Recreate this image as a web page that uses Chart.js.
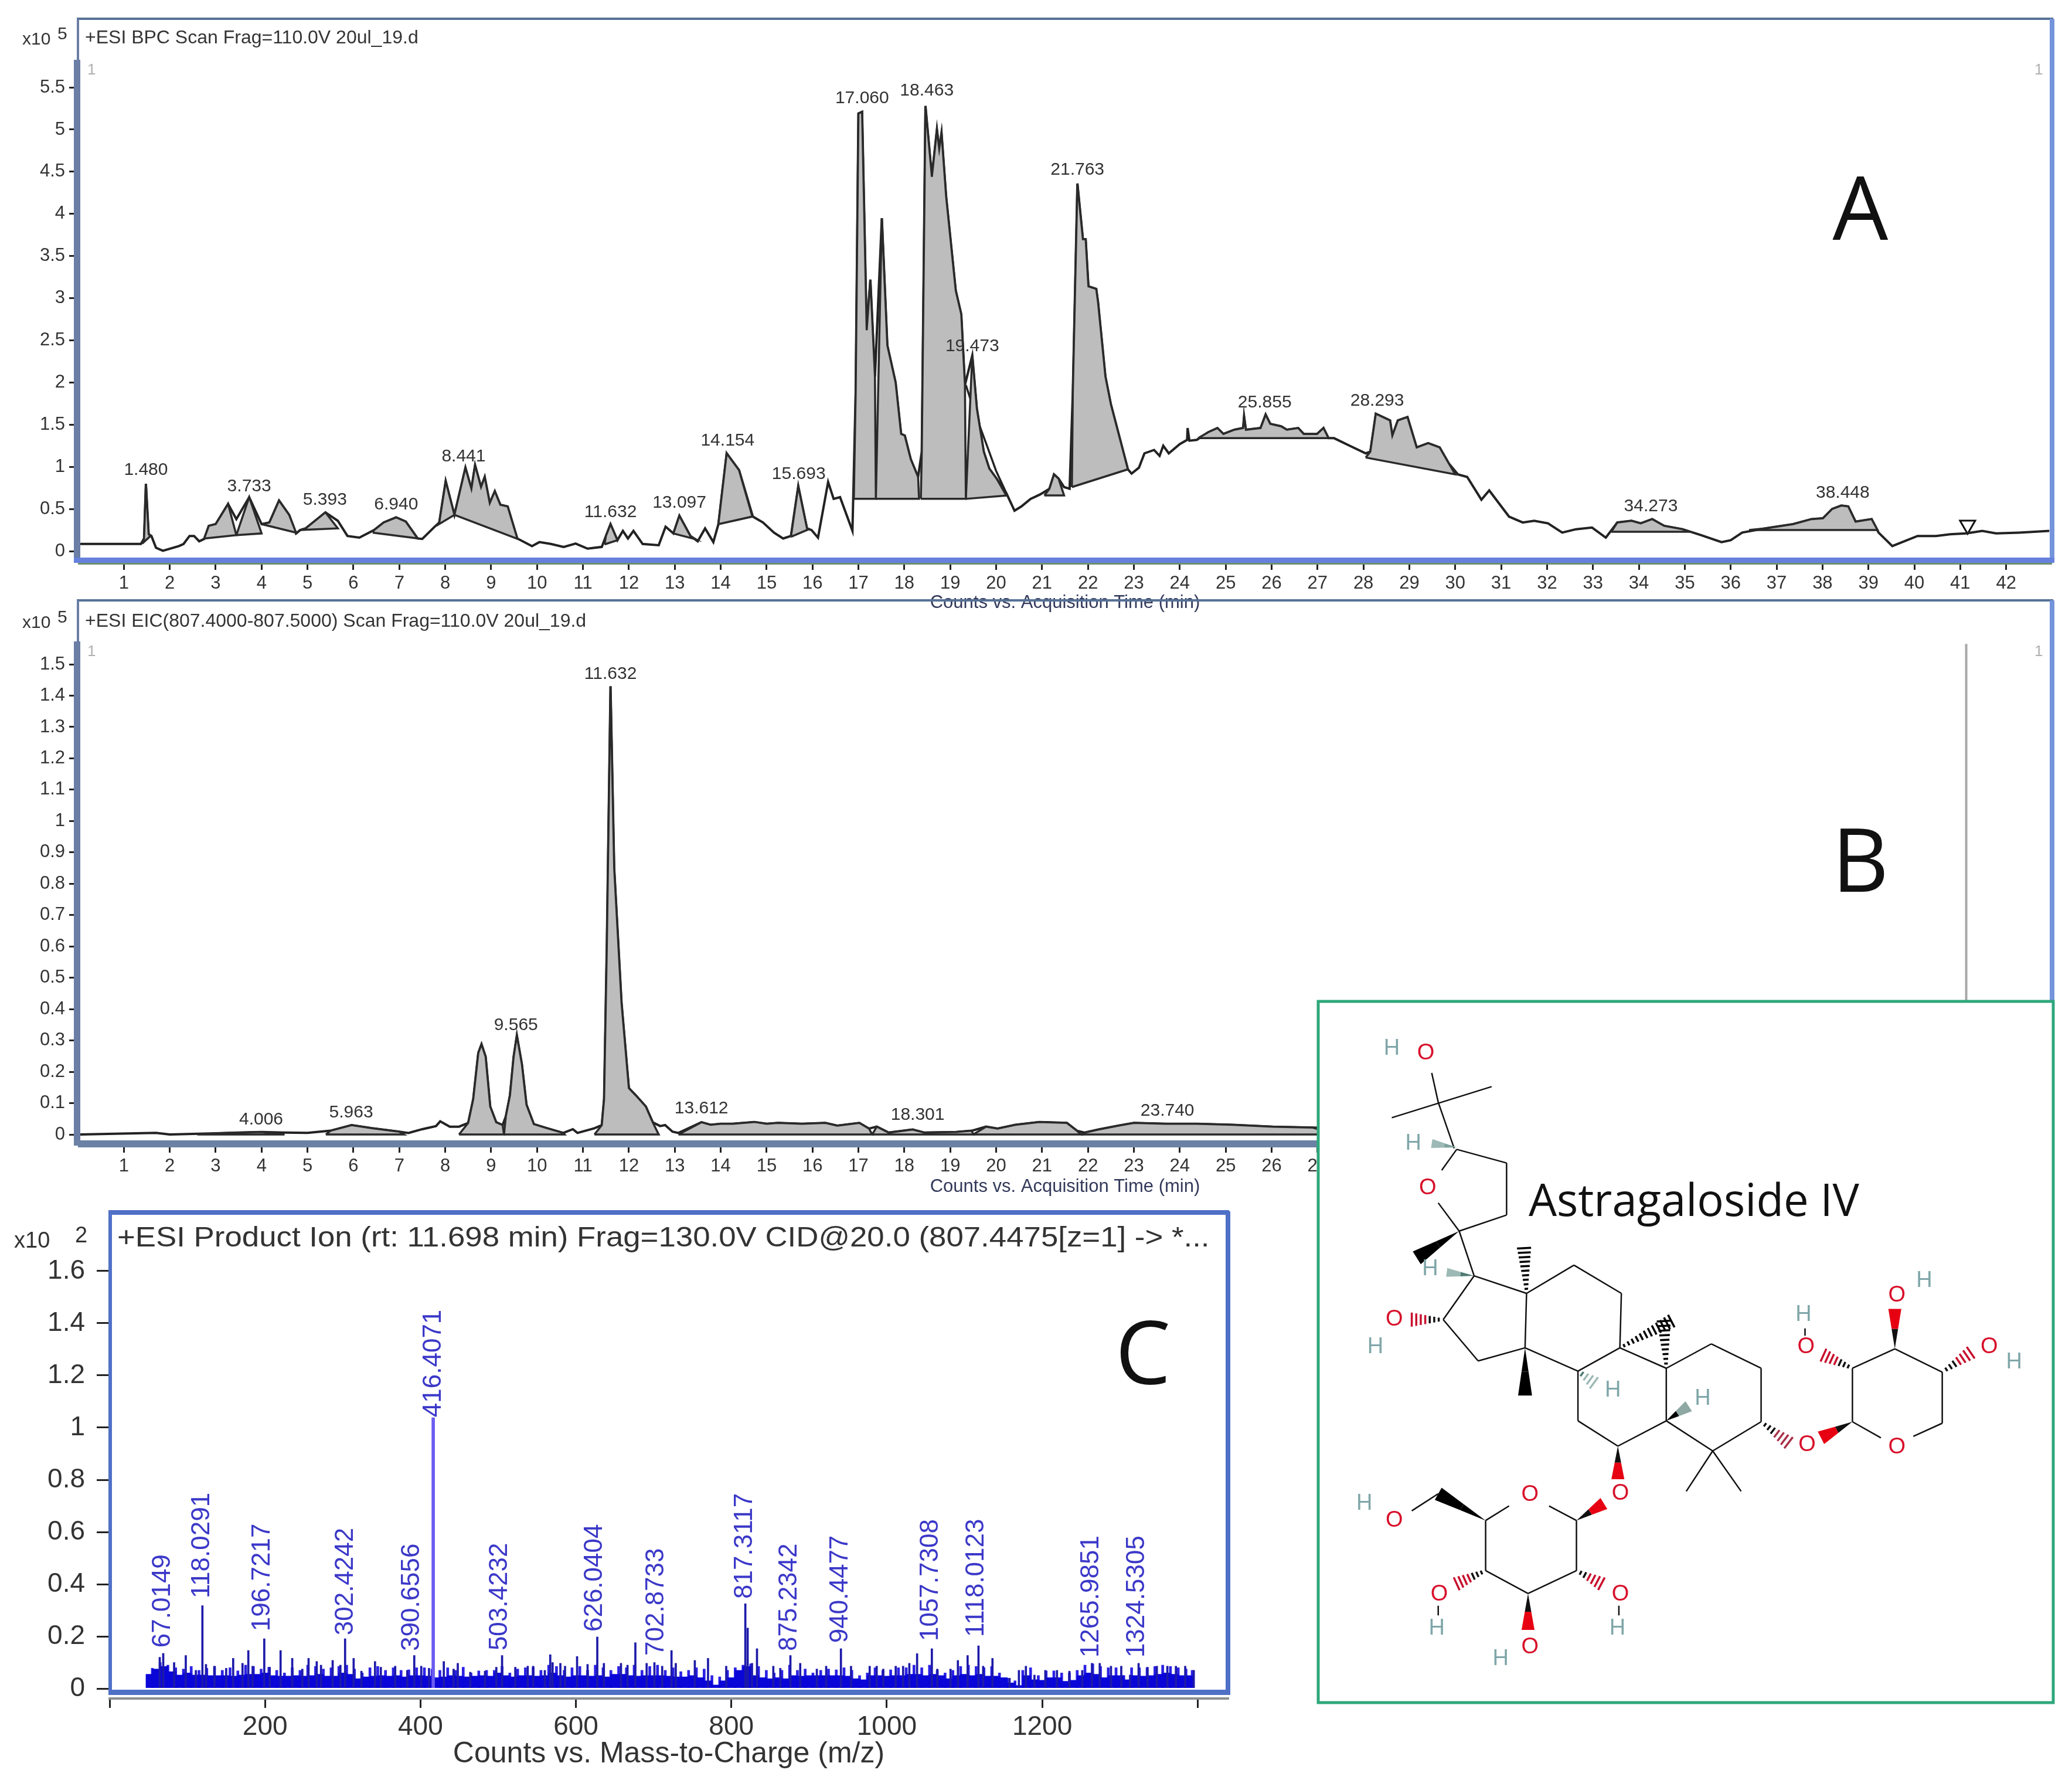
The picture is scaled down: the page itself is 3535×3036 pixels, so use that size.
<!DOCTYPE html>
<html>
<head>
<meta charset="utf-8">
<title>Astragaloside IV</title>
<script src="https://cdn.jsdelivr.net/npm/chart.js@4/dist/chart.umd.js"></script>
<style>
  html, body { margin: 0; padding: 0; background: #fff; }
  #page { position: relative; width: 3535px; height: 3036px; overflow: hidden; }
  canvas { position: absolute; left: 0; top: 0; }
</style>
</head>
<body>
<div id="page">
  <canvas id="chartA" width="3535" height="3036"></canvas>
  <canvas id="chartB" width="3535" height="3036"></canvas>
  <canvas id="chartC" width="3535" height="3036"></canvas>
  <canvas id="chartMol" width="3535" height="3036"></canvas>
</div>
<script>
// ---- panel A: BPC trace ----
const timeA = [0.05,1.37,1.44,1.48,1.54,1.6,1.7,1.85,2.2,2.3,2.43,2.53,2.64,2.75,2.85,3.0,3.27,3.45,3.73,4.0,4.17,4.38,4.6,4.75,4.84,4.96,5.39,5.66,5.87,6.13,6.45,6.66,6.93,7.14,7.4,7.5,7.77,7.87,8.01,8.2,8.44,8.57,8.65,8.78,8.86,8.97,9.08,9.2,9.36,9.57,9.89,10.05,10.3,10.58,10.84,11.1,11.41,11.5,11.6,11.75,11.87,11.98,12.1,12.3,12.65,12.8,12.97,13.1,13.34,13.5,13.66,13.84,13.95,14.13,14.4,14.7,14.92,15.16,15.36,15.53,15.69,15.88,15.98,16.12,16.34,16.46,16.6,16.87,16.94,17.0,17.08,17.18,17.26,17.36,17.51,17.63,17.81,17.93,18.01,18.14,18.3,18.38,18.46,18.6,18.71,18.76,18.81,18.91,19.12,19.24,19.32,19.48,19.58,19.73,19.85,20.01,20.22,20.4,20.55,20.75,20.95,21.16,21.26,21.36,21.48,21.6,21.67,21.77,21.89,21.95,22.01,22.18,22.22,22.38,22.5,22.87,22.95,23.11,23.23,23.44,23.56,23.64,23.76,24.0,24.16,24.17,24.21,24.37,24.62,24.82,24.95,25.19,25.38,25.4,25.44,25.76,25.87,25.97,26.21,26.33,26.58,26.7,26.99,27.13,27.24,27.36,27.7,28.05,28.15,28.27,28.58,28.63,28.75,28.96,29.16,29.41,29.66,29.86,30.06,30.26,30.57,30.74,31.17,31.47,31.72,32.02,32.33,32.63,32.98,33.28,33.53,33.84,34.04,34.29,34.55,34.95,35.35,35.8,36.0,36.25,36.75,37.36,37.76,38.01,38.21,38.41,38.56,38.72,39.07,39.22,39.52,40.07,40.47,40.78,41.13,41.48,41.78,42.28,42.94];
const intensityA = [0.085,0.085,0.15,0.8,0.2,0.18,0.04,0.005,0.06,0.085,0.18,0.18,0.117,0.145,0.3,0.32,0.56,0.38,0.64,0.32,0.34,0.6,0.43,0.21,0.25,0.27,0.46,0.36,0.18,0.16,0.25,0.34,0.4,0.35,0.15,0.145,0.29,0.34,0.83,0.43,0.99,0.74,1.02,0.76,0.88,0.57,0.71,0.55,0.53,0.15,0.06,0.107,0.085,0.05,0.09,0.03,0.05,0.18,0.32,0.13,0.24,0.15,0.24,0.085,0.07,0.29,0.21,0.42,0.18,0.117,0.27,0.107,0.32,1.16,0.96,0.41,0.34,0.22,0.15,0.18,0.77,0.27,0.25,0.16,0.82,0.62,0.64,0.24,1.88,5.19,5.21,2.62,3.22,2.07,3.95,2.44,2.0,1.39,1.37,1.09,0.88,1.18,5.28,4.44,5.0,4.77,4.96,4.21,3.09,2.81,1.97,2.32,1.69,1.18,0.98,0.86,0.69,0.48,0.53,0.62,0.67,0.74,0.91,0.86,0.76,0.74,1.88,4.36,3.7,3.7,3.14,3.11,2.95,2.07,1.74,0.97,0.92,0.99,1.16,1.2,1.13,1.25,1.16,1.27,1.32,1.46,1.31,1.32,1.41,1.46,1.39,1.44,1.46,1.6,1.44,1.46,1.62,1.51,1.48,1.44,1.46,1.39,1.39,1.46,1.34,1.34,1.25,1.16,1.18,1.63,1.55,1.37,1.55,1.59,1.23,1.28,1.23,1.04,0.91,0.88,0.61,0.72,0.41,0.34,0.36,0.33,0.22,0.26,0.28,0.16,0.34,0.36,0.33,0.38,0.3,0.26,0.19,0.107,0.13,0.22,0.27,0.32,0.38,0.39,0.5,0.54,0.53,0.35,0.38,0.22,0.06,0.18,0.18,0.2,0.21,0.24,0.21,0.22,0.24];
// second falling edge next to the 19.473 peak
const tailTimeA = [19.34,19.55,19.8,20.0,20.22];
const tailValueA = [1.97,1.62,1.25,0.95,0.69];
// integrated peaks: start time, start baseline, end time, end baseline
const peaksA = [
  [1.4,0.09,1.58,0.18],[2.75,0.15,3.45,0.19],[3.45,0.19,4.0,0.21],[4.0,0.32,4.75,0.22],
  [4.84,0.25,5.66,0.27],[6.42,0.22,7.42,0.15],[7.8,0.3,8.2,0.43],[8.2,0.43,9.6,0.14],
  [11.47,0.08,11.75,0.13],[12.97,0.21,13.46,0.14],[13.95,0.32,14.69,0.41],[15.53,0.17,15.92,0.26],
  [16.9,0.62,17.38,0.62],[17.38,0.62,18.32,0.62],[18.36,0.62,19.34,0.62],[19.34,0.62,20.22,0.66],
  [21.05,0.66,21.48,0.66],[21.65,0.76,22.87,0.97],[24.4,1.34,27.3,1.34],[28.05,1.11,30.0,0.91],
  [33.4,0.23,35.1,0.23],[36.4,0.25,39.2,0.25]
];
const peakTextA = ["1.480","3.733","5.393","6.940","8.441","11.632","13.097","14.154","15.693","17.060","18.463","19.473","21.763","25.855","28.293","34.273","38.448"];
const peakTextTimeA = [1.48,3.73,5.38,6.93,8.4,11.6,13.1,14.15,15.7,17.08,18.49,19.48,21.77,25.85,28.3,34.26,38.44];
const peakTextValueA = [0.96,0.77,0.61,0.55,1.12,0.46,0.57,1.31,0.91,5.37,5.46,2.43,4.52,1.76,1.78,0.53,0.69];
const markerA = [{ x: 41.16, y: 0.31 }];

// ---- panel B: EIC trace ----
const timeB = [0.05,1.7,2.0,2.5,3.0,3.5,4.0,4.5,5.0,5.5,5.96,6.4,7.0,7.2,7.5,7.8,7.89,8.1,8.3,8.5,8.61,8.72,8.79,8.88,8.98,9.11,9.25,9.32,9.41,9.49,9.56,9.67,9.77,9.93,10.2,10.57,10.78,10.88,11.25,11.41,11.46,11.52,11.6,11.68,11.84,12.0,12.15,12.37,12.52,12.68,12.79,12.95,13.08,13.58,13.78,14.0,14.26,14.73,15.0,15.25,15.77,16.28,16.54,17.02,17.23,17.4,17.66,18.18,18.44,19.13,19.47,19.78,20.03,20.42,20.94,21.54,21.76,21.93,22.23,22.66,23.0,23.7,24.37,25.15,26.03,26.9,27.4];
const intensityB = [0,0.005,0,0.002,0.004,0.006,0.008,0.006,0.005,0.012,0.03,0.02,0.009,0.005,0.017,0.027,0.042,0.025,0.025,0.037,0.113,0.26,0.288,0.248,0.089,0.039,0.03,0.058,0.125,0.248,0.316,0.224,0.095,0.033,0.021,0.005,0.017,0.005,0.02,0.03,0.113,0.605,1.43,0.85,0.42,0.148,0.125,0.089,0.039,0.027,0.03,0.009,0.005,0.039,0.031,0.034,0.034,0.04,0.034,0.037,0.034,0.037,0.028,0.037,0.019,0.025,0.006,0.016,0.006,0.008,0.012,0.025,0.019,0.031,0.04,0.037,0.012,0.006,0.016,0.028,0.037,0.034,0.034,0.031,0.025,0.022,0.02];
const peaksB = [
  [2.6,0,4.5,0],[5.4,0,7.1,0],[8.3,0,9.28,0],[9.28,0,10.6,0],[11.25,0,12.65,0],[13.08,0,17.3,0],
  [17.3,0,19.5,0],[19.5,0,21.85,0],[21.85,0,27.4,0]
];
const peakTextB = ["4.006","5.963","9.565","11.632","13.612","18.301","23.740"];
const peakTextTimeB = [3.99,5.95,9.54,11.6,13.58,18.29,23.73];
const peakTextValueB = [0.048,0.07,0.349,1.469,0.082,0.062,0.075];
const cursorTimeB = [41.13,41.13];
const cursorValueB = [0,1.565];

const timeTicks = [1,2,3,4,5,6,7,8,9,10,11,12,13,14,15,16,17,18,19,20,21,22,23,24,25,26,27,28,29,30,31,32,33,34,35,36,37,38,39,40,41,42];
const yTicksA = [0,0.5,1,1.5,2,2.5,3,3.5,4,4.5,5,5.5];
const yTicksB = [0,0.1,0.2,0.3,0.4,0.5,0.6,0.7,0.8,0.9,1,1.1,1.2,1.3,1.4,1.5];

// ---- panel C: product ion spectrum ----
const noiseMz = [52,60,70,80,90,100,110,120,130,140,150,160,170,180,190,200,210,220,230,240,250,260,270,280,290,300,310,320,330,340,350,360,370,380,390,400,410,420,430,440,450,460,470,480,490,500,510,520,530,540,550,560,570,580,590,600,610,620,630,640,650,660,670,680,690,700,710,720,730,740,750,760,770,780,790,800,810,820,830,840,850,860,870,880,890,900,910,920,930,940,950,960,970,980,990,1000,1010,1020,1030,1040,1050,1060,1070,1080,1090,1100,1110,1120,1130,1140,1150,1160,1170,1180,1190,1200,1210,1220,1230,1240,1250,1260,1270,1280,1290,1300,1310,1320,1330,1340,1350,1360,1370,1380,1390];
const noiseValue = [0.055,0.075,0.085,0.065,0.052,0.06,0.052,0.052,0.05,0.05,0.05,0.048,0.052,0.055,0.055,0.06,0.05,0.048,0.048,0.05,0.048,0.05,0.055,0.048,0.048,0.06,0.055,0.038,0.045,0.048,0.05,0.048,0.05,0.045,0.05,0.05,0.048,0.042,0.045,0.05,0.048,0.045,0.048,0.05,0.048,0.06,0.05,0.045,0.05,0.05,0.048,0.05,0.06,0.05,0.045,0.05,0.05,0.048,0.05,0.045,0.055,0.055,0.05,0.048,0.05,0.05,0.05,0.048,0.045,0.045,0.05,0.042,0.03,0.014,0.03,0.042,0.07,0.085,0.05,0.042,0.038,0.042,0.038,0.05,0.048,0.05,0.05,0.05,0.05,0.05,0.048,0.038,0.034,0.05,0.05,0.048,0.05,0.05,0.055,0.055,0.05,0.055,0.05,0.038,0.05,0.055,0.05,0.055,0.048,0.048,0.042,0.022,0.012,0.05,0.034,0.032,0.042,0.042,0.028,0.032,0.05,0.06,0.055,0.042,0.05,0.05,0.034,0.05,0.048,0.05,0.055,0.06,0.055,0.05,0.05];
// lighter top layer of the noise, taken off the comb between the labelled ions
const combMz = [55,65,75,85,95,105,115,125,135,145,155,165,175,185,195,205,215,225,235,245,255,265,275,285,295,305,315,325,335,345,355,365,375,385,395,405,415,425,435,445,455,465,475,485,495,505,515,525,535,545,555,565,575,585,595,605,615,625,635,645,655,665,675,685,695,705,715,725,735,745,755,765,775,785,795,805,815,825,835,845,855,865,875,885,895,905,915,925,935,945,955,965,975,985,995,1005,1015,1025,1035,1045,1055,1065,1075,1085,1095,1105,1115,1125,1135,1145,1155,1165,1175,1185,1195,1205,1215,1225,1235,1245,1255,1265,1275,1285,1295,1305,1315,1325,1335,1345,1355,1365,1375,1385,1393];
const combValue = [0.078,0.1,0.09,0.08,0.075,0.085,0.07,0.078,0.085,0.07,0.08,0.068,0.09,0.085,0.075,0.082,0.07,0.06,0.08,0.07,0.09,0.085,0.075,0.08,0.085,0.09,0.075,0.06,0.08,0.085,0.07,0.08,0.07,0.072,0.08,0.08,0.075,0.07,0.08,0.07,0.082,0.06,0.068,0.07,0.07,0.085,0.06,0.075,0.08,0.082,0.07,0.09,0.085,0.07,0.08,0.085,0.07,0.09,0.08,0.07,0.085,0.08,0.09,0.07,0.085,0.09,0.07,0.08,0.065,0.07,0.08,0.075,0.05,0.045,0.07,0.08,0.09,0.095,0.085,0.07,0.06,0.07,0.09,0.07,0.075,0.06,0.07,0.075,0.072,0.08,0.07,0.05,0.06,0.08,0.07,0.072,0.08,0.08,0.09,0.08,0.09,0.07,0.06,0.07,0.085,0.09,0.085,0.08,0.085,0.06,0.04,0.03,0.07,0.08,0.05,0.068,0.068,0.06,0.06,0.07,0.09,0.095,0.085,0.08,0.08,0.05,0.08,0.08,0.08,0.085,0.09,0.085,0.08,0.075,0.07];
const spikeMz = [64.5,69,83,98,111,119.4,124,135,150,159,171,178.5,184,199,206,220,235,248,256,266.5,272,287,297,303,314,324,341.5,349,367.5,383,392,401,411,430,442.6,448,464,483,497.6,505,522,538,545,560,567,570,580,586,601.5,615,627.5,636,658,666.4,676.5,691,701,711,723,728.5,753,770,793.4,818,821,826.6,833,854,863,876,888.6,910,922,941,954,978,987,995.5,1011.5,1021,1029,1039,1058,1065,1082,1091.5,1104,1118,1124,1136,1158,1170,1179,1190,1204,1219,1235,1251.5,1264,1274,1288.5,1301.7,1313,1324,1335.5,1347.5,1361,1372,1384,1395];
const spikeValue = [0.12,0.135,0.1,0.127,0.07,0.318,0.093,0.086,0.078,0.116,0.097,0.146,0.086,0.191,0.082,0.146,0.116,0.075,0.116,0.104,0.09,0.108,0.09,0.191,0.116,0.067,0.104,0.082,0.086,0.07,0.127,0.086,0.078,0.104,0.075,0.097,0.063,0.067,0.082,0.127,0.082,0.086,0.086,0.07,0.13,0.1,0.097,0.086,0.123,0.093,0.198,0.097,0.097,0.09,0.176,0.097,0.1,0.086,0.146,0.097,0.108,0.116,0.086,0.325,0.232,0.097,0.153,0.086,0.078,0.127,0.097,0.075,0.086,0.153,0.086,0.086,0.086,0.075,0.086,0.086,0.097,0.134,0.153,0.075,0.075,0.108,0.127,0.164,0.086,0.116,0.04,0.07,0.086,0.052,0.07,0.07,0.067,0.07,0.097,0.097,0.086,0.086,0.052,0.097,0.082,0.086,0.086,0.086,0.086,0.07];
const basePeakMz = [416.4];
const basePeakValue = [1.038];
const ionText = ["67.0149","118.0291","196.7217","302.4242","390.6556","416.4071","503.4232","626.0404","702.8733","817.3117","875.2342","940.4477","1057.7308","1118.0123","1265.9851","1324.5305"];
const ionTextMz = [68.6,119,197,304,389,417,502,624,703.6,817.5,875,940,1056.6,1115,1263,1322];
const ionTextValue = [0.157,0.346,0.22,0.204,0.144,1.04,0.146,0.218,0.126,0.344,0.144,0.175,0.182,0.198,0.119,0.119];
const massTicks = [0,200,400,600,800,1000,1200,1400];
const yTicksC = [0,0.2,0.4,0.6,0.8,1,1.2,1.4,1.6];

// ---- inset: Astragaloside IV structure, in sketch units ----
const bonds = [
  [285,205,298,265],[205,297,405,233],[298,265,330,360],[335,362,435,390],[435,390,435,497],[435,497,340,530],
  [340,530,298,472],[305,405,335,362],[340,530,370,622],[370,622,475,658],[475,658,472,770],[472,770,378,797],
  [378,797,308,712],[308,712,370,622],[475,658,570,600],[570,600,665,658],[665,658,662,770],[662,770,578,818],
  [578,818,472,770],[578,818,578,920],[578,920,658,972],[658,972,755,920],[755,920,755,812],[755,812,662,770],
  [755,812,845,762],[845,762,945,812],[945,812,945,922],[945,922,848,982],[848,982,755,920],[848,982,795,1065],
  [848,982,905,1065],[1128,922,1128,812],[1128,812,1213,772],[1213,772,1308,820],[1308,820,1308,925],
  [1308,925,1250,952],[1185,955,1128,922],[393,1125,440,1095],[520,1095,575,1125],[575,1125,575,1228],
  [575,1228,478,1275],[478,1275,393,1228],[393,1228,393,1125],[298,1070,245,1105],[1033,730,1033,745],
  [298,1300,298,1320],[660,1300,660,1320]
];
// solid wedges: narrow end, wide end, width, colour of each half
const wedges = [
  [335,358,285,350,18,"#7fa39f","#9db9b5"],[340,530,255,585,30,"#000","#000"],[370,622,315,615,18,"#4f7a72","#9db9b5"],
  [472,770,472,868,28,"#000","#000"],[755,920,800,890,24,"#000","#8fa8a4"],[658,972,658,1040,26,"#111","#e60012"],
  [1128,922,1065,955,28,"#111","#e60012"],[1213,772,1213,690,26,"#111","#e60012"],[575,1125,630,1090,26,"#111","#e60012"],
  [393,1125,298,1070,28,"#000","#000"],[478,1275,478,1350,26,"#111","#e60012"]
];
const hashes = [
  [308,712,245,712,"#111","#c8102e"],[475,658,470,565,"#000","#000"],[662,770,765,715,"#000","#000"],
  [755,812,750,715,"#000","#000"],[578,818,610,842,"#4f7a72","#9db9b5"],[945,922,1000,965,"#111","#a83048"],
  [1128,812,1070,785,"#111","#c8102e"],[1308,820,1365,780,"#111","#c8102e"],[393,1228,335,1255,"#111","#c8102e"],
  [575,1228,625,1255,"#111","#c8102e"]
];
const oxygenX = [273,277,210,663,1037,1217,1217,1035,1402,482,210,300,663,482];
const oxygenY = [165,442,712,1070,970,975,662,768,768,1072,1125,1277,1277,1385];
const hydrogenX = [205,248,282,172,648,828,1272,1030,1452,150,295,657,423];
const hydrogenY = [155,350,608,768,858,875,632,702,800,1090,1347,1347,1410];

const sansFont = "'Liberation Sans', Arial, sans-serif";
const textColor = "#333";

function xyPoints(xs, ys) {
  return xs.map((x, i) => ({ x, y: ys[i] }));
}

// closed outline of one integrated peak, walks the trace then back along its baseline
function peakShape(xs, ys, peak) {
  const [t0, b0, t1, b1] = peak;
  const inner = xyPoints(xs, ys).filter(p => p.x > t0 && p.x < t1);
  return [{ x: t0, y: b0 }, ...inner, { x: t1, y: b1 }, { x: t0, y: b0 }];
}

function traceSet(data, color, width) {
  return { data, showLine: true, fill: false, borderColor: color, borderWidth: width, pointRadius: 0, tension: 0 };
}

function peakSets(xs, ys, peaks) {
  return peaks.map(peak => ({
    data: peakShape(xs, ys, peak),
    showLine: true,
    fill: "shape",
    backgroundColor: "#bdbdbd",
    borderColor: "#2a2a2a",
    borderWidth: 3.5,
    pointRadius: 0,
    tension: 0,
  }));
}

function drawText(ctx, text, x, y, font, color, align, rotate, stretch) {
  ctx.save();
  ctx.translate(x, y);
  if (rotate) ctx.rotate(rotate);
  if (stretch) ctx.scale(stretch, 1);
  ctx.font = font;
  ctx.fillStyle = color;
  ctx.textAlign = align || "left";
  ctx.textBaseline = "middle";
  ctx.fillText(text, 0, 0);
  ctx.restore();
}

// border of a panel plus its fixed captions
function panelPlugin(cfg) {
  return {
    id: "panel",
    afterDraw(chart) {
      const { ctx, chartArea: a, scales } = chart;
      const h = a.bottom - a.top;
      const w = a.right - a.left;
      const inset = cfg.bottomInset || 0;
      ctx.save();
      ctx.fillStyle = cfg.topColor;
      ctx.fillRect(a.left - 2, a.top - 2, w + 4, cfg.topWidth);
      ctx.fillStyle = cfg.sideColor;
      ctx.fillRect(a.left - cfg.sideWidth + 4, a.top + cfg.thickFrom, cfg.sideWidth, h - cfg.thickFrom - inset);
      ctx.fillRect(a.left - 2, a.top, 4, cfg.thickFrom);
      ctx.fillStyle = cfg.rightColor;
      ctx.fillRect(a.right - 4, a.top, 8, h - inset);
      ctx.fillStyle = cfg.bottomColor;
      ctx.fillRect(a.left - cfg.sideWidth + 4, a.bottom - inset - 5, w + cfg.sideWidth, 9);
      if (cfg.underColor) {
        ctx.fillStyle = cfg.underColor;
        ctx.fillRect(a.left, a.bottom + 4, w, 3);
      }
      ctx.restore();

      drawText(ctx, cfg.title, cfg.titleX, cfg.titleY, cfg.titleFont, "#333", "left", 0, cfg.titleStretch);
      drawText(ctx, "x10", cfg.expX, cfg.expY, cfg.expFont, "#333");
      drawText(ctx, cfg.expPower, cfg.powerX, cfg.expY - 9, cfg.expFont, "#333");
      if (cfg.cornerMark) {
        drawText(ctx, "1", a.left + 16, a.top + 88, "26px " + sansFont, "#b0b0b0");
        drawText(ctx, "1", a.right - 30, a.top + 88, "26px " + sansFont, "#b0b0b0");
      }
      drawText(ctx, cfg.letter, cfg.letterX, cfg.letterY, "150px 'Open Sans', sans-serif", "#111", "center");

      cfg.labels.forEach((t, i) => {
        const x = scales.x.getPixelForValue(cfg.labelX[i]);
        const y = scales.y.getPixelForValue(cfg.labelY[i]);
        if (cfg.rotated) {
          drawText(ctx, t, x, y, cfg.labelFont, cfg.labelColor, "left", -Math.PI / 2);
        } else {
          drawText(ctx, t, x, y, cfg.labelFont, cfg.labelColor, "center");
        }
      });
    },
  };
}

function panelOptions(cfg) {
  return {
    responsive: false,
    devicePixelRatio: 1,
    animation: false,
    events: [],
    layout: { padding: { left: 0, top: cfg.top, right: 3535 - cfg.right, bottom: 3036 - cfg.bottom - cfg.xHeight } },
    plugins: { legend: { display: false }, tooltip: { enabled: false }, title: { display: false } },
    scales: {
      x: {
        type: "linear",
        offset: false,
        min: cfg.xMin,
        max: cfg.xMax,
        afterBuildTicks: s => { s.ticks = cfg.xTicks.map(value => ({ value })); },
        afterFit: s => { s.height = cfg.xHeight; },
        grid: { offset: false, drawOnChartArea: false, drawTicks: true, tickLength: cfg.xTickLength, color: "#222", lineWidth: 3 },
        border: { display: !!cfg.xBorder, color: cfg.xBorder, width: 4 },
        ticks: {
          autoSkip: false,
          maxRotation: 0,
          padding: cfg.xPad,
          color: textColor,
          font: { family: sansFont, size: cfg.tickSize },
          callback: cfg.xLabel || (v => v),
        },
        title: {
          display: true,
          text: cfg.xTitle,
          color: cfg.xTitleColor || "#33395a",
          font: { family: sansFont, size: cfg.xTitleSize },
          padding: 0,
        },
      },
      y: {
        type: "linear",
        min: cfg.yMin,
        max: cfg.yMax,
        afterBuildTicks: s => { s.ticks = cfg.yTicks.map(value => ({ value })); },
        afterFit: s => { s.width = cfg.left; },
        grid: { drawOnChartArea: false, drawTicks: true, tickLength: cfg.yTickLength, color: "#222", lineWidth: 3 },
        border: { display: false },
        ticks: {
          autoSkip: false,
          padding: cfg.yPad,
          color: textColor,
          font: { family: sansFont, size: cfg.tickSize },
          callback: v => v,
        },
      },
    },
  };
}

const peakFont = "30px " + sansFont;

new Chart(document.getElementById("chartA"), {
  type: "scatter",
  data: {
    datasets: [
      ...peakSets(timeA, intensityA, peaksA),
      traceSet(xyPoints(timeA, intensityA), "#222", 4),
      traceSet(xyPoints(tailTimeA, tailValueA), "#222", 3.5),
      {
        data: markerA,
        pointStyle: "triangle",
        rotation: 180,
        pointRadius: 15,
        backgroundColor: "#fff",
        borderColor: "#111",
        borderWidth: 3,
      },
    ],
  },
  options: panelOptions({
    left: 133, top: 32, right: 3501, bottom: 956, xHeight: 91,
    xMin: 0, xMax: 43, yMin: -0.111, yMax: 6.314,
    xTicks: timeTicks, yTicks: yTicksA,
    xTickLength: 16, yTickLength: 15, xPad: 5, yPad: 7,
    tickSize: 31, xTitle: "Counts vs. Acquisition Time (min)", xTitleSize: 31,
  }),
  plugins: [panelPlugin({
    title: "+ESI BPC Scan Frag=110.0V 20ul_19.d", titleX: 145, titleY: 65, titleFont: "32px " + sansFont,
    expX: 38, expY: 68, expFont: "30px " + sansFont, expPower: "5", powerX: 98,
    topColor: "#567196", topWidth: 4, sideColor: "#6a7ea6", sideWidth: 11, thickFrom: 70,
    rightColor: "#7494dc", bottomColor: "#6680dc", underColor: "#6e9070",
    cornerMark: true,
    letter: "A", letterX: 3174, letterY: 366,
    labels: peakTextA, labelX: peakTextTimeA, labelY: peakTextValueA, labelFont: peakFont, labelColor: "#333",
  })],
});

new Chart(document.getElementById("chartB"), {
  type: "scatter",
  data: {
    datasets: [
      ...peakSets(timeB, intensityB, peaksB),
      traceSet(xyPoints(timeB, intensityB), "#222", 4),
      traceSet(xyPoints(cursorTimeB, cursorValueB), "#a8a8a8", 4),
    ],
  },
  options: panelOptions({
    left: 133, top: 1024, right: 3501, bottom: 1950, xHeight: 93,
    xMin: 0, xMax: 43, yMin: -0.028, yMax: 1.704,
    xTicks: timeTicks, yTicks: yTicksB,
    xTickLength: 16, yTickLength: 15, xPad: 5, yPad: 7,
    tickSize: 31, xTitle: "Counts vs. Acquisition Time (min)", xTitleSize: 31,
  }),
  plugins: [panelPlugin({
    title: "+ESI EIC(807.4000-807.5000) Scan Frag=110.0V 20ul_19.d", titleX: 145, titleY: 1060, titleFont: "32px " + sansFont,
    expX: 38, expY: 1063, expFont: "30px " + sansFont, expPower: "5", powerX: 98,
    topColor: "#567196", topWidth: 4, sideColor: "#6a7ea6", sideWidth: 11, thickFrom: 70,
    rightColor: "#7494dc", bottomColor: "#6b82a4", underColor: "#6b82a4",
    cornerMark: true,
    letter: "B", letterX: 3174, letterY: 1478,
    labels: peakTextB, labelX: peakTextTimeB, labelY: peakTextValueB, labelFont: peakFont, labelColor: "#333",
  })],
});

new Chart(document.getElementById("chartC"), {
  type: "bar",
  data: {
    datasets: [
      { data: xyPoints(noiseMz, noiseValue), backgroundColor: "#0a06d8", barThickness: 14, grouped: false, order: 2 },
      { data: xyPoints(combMz, combValue), backgroundColor: "#2c22e4", barThickness: 4, grouped: false, order: 3 },
      { data: xyPoints(spikeMz, spikeValue), backgroundColor: "#1d1aa8", barThickness: 3, grouped: false, order: 1 },
      { data: xyPoints(basePeakMz, basePeakValue), backgroundColor: "#6a5cf0", barThickness: 5, grouped: false, order: 0 },
    ],
  },
  options: panelOptions({
    left: 187, top: 2066, right: 2095, bottom: 2897, xHeight: 125,
    xMin: 0, xMax: 1439, yMin: -0.038, yMax: 1.829,
    xTicks: massTicks, yTicks: yTicksC,
    xTickLength: 16, yTickLength: 22, xPad: 6, yPad: 20,
    tickSize: 46, xTitle: "Counts vs. Mass-to-Charge (m/z)", xTitleSize: 50, xTitleColor: "#333",
    xBorder: "#8a9090",
    xLabel: v => (v === 0 || v === 1400 ? "" : v),
  }),
  plugins: [panelPlugin({
    title: "+ESI Product Ion (rt: 11.698 min) Frag=130.0V CID@20.0 (807.4475[z=1] -> *...", titleX: 200, titleY: 2113, titleFont: "48px " + sansFont, titleStretch: 1.1,
    expX: 24, expY: 2118, expFont: "38px " + sansFont, expPower: "2", powerX: 128,
    topColor: "#4f70c6", topWidth: 8, sideColor: "#4f70c6", sideWidth: 6, thickFrom: 0,
    rightColor: "#4f70c6", bottomColor: "#4f70c6", bottomInset: 10,
    letter: "C", letterX: 1950, letterY: 2318,
    labels: ionText, labelX: ionTextMz, labelY: ionTextValue, labelFont: "44px " + sansFont, labelColor: "#3b38c8", rotated: true,
  })],
});

// bonds go through one line dataset, a null between bonds breaks the line
const bondPoints = [];
bonds.forEach(b => {
  bondPoints.push({ x: b[0], y: b[1] }, { x: b[2], y: b[3] }, { x: b[2], y: null });
});

const moleculePlugin = {
  id: "molecule",
  beforeDatasetsDraw(chart) {
    const { ctx } = chart;
    ctx.save();
    ctx.fillStyle = "#fff";
    ctx.fillRect(2247, 1706, 1258, 1200);
    ctx.strokeStyle = "#2fa77c";
    ctx.lineWidth = 5;
    ctx.strokeRect(2249, 1708, 1254, 1196);
    ctx.restore();
  },
  afterDatasetsDraw(chart) {
    const { ctx, scales } = chart;
    const px = v => scales.x.getPixelForValue(v);
    const py = v => scales.y.getPixelForValue(v);
    wedges.forEach(([x1, y1, x2, y2, width, colorA, colorB]) => {
      const ax = px(x1), ay = py(y1), bx = px(x2), by = py(y2);
      const len = Math.hypot(bx - ax, by - ay);
      const nx = -(by - ay) / len, ny = (bx - ax) / len;
      const half = width * 0.85 / 2;
      const mx = (ax + bx) / 2, my = (ay + by) / 2;
      ctx.fillStyle = colorA;
      ctx.beginPath();
      ctx.moveTo(ax, ay);
      ctx.lineTo(mx + nx * half / 2, my + ny * half / 2);
      ctx.lineTo(mx - nx * half / 2, my - ny * half / 2);
      ctx.closePath();
      ctx.fill();
      ctx.fillStyle = colorB;
      ctx.beginPath();
      ctx.moveTo(mx + nx * half / 2, my + ny * half / 2);
      ctx.lineTo(bx + nx * half, by + ny * half);
      ctx.lineTo(bx - nx * half, by - ny * half);
      ctx.lineTo(mx - nx * half / 2, my - ny * half / 2);
      ctx.closePath();
      ctx.fill();
    });
    hashes.forEach(([x1, y1, x2, y2, colorA, colorB]) => {
      const ax = px(x1), ay = py(y1), bx = px(x2), by = py(y2);
      const len = Math.hypot(bx - ax, by - ay);
      const nx = -(by - ay) / len, ny = (bx - ax) / len;
      const steps = Math.max(4, Math.round(len / 8));
      ctx.lineWidth = 3.5;
      for (let i = 1; i <= steps; i++) {
        const f = i / steps;
        const half = 2 + f * 10;
        const cx = ax + (bx - ax) * f, cy = ay + (by - ay) * f;
        ctx.strokeStyle = f < 0.5 ? colorA : colorB;
        ctx.beginPath();
        ctx.moveTo(cx + nx * half, cy + ny * half);
        ctx.lineTo(cx - nx * half, cy - ny * half);
        ctx.stroke();
      }
    });
    const atomFont = "38px " + sansFont;
    oxygenX.forEach((x, i) => drawText(ctx, "O", px(x), py(oxygenY[i]), atomFont, "#d8102a", "center"));
    hydrogenX.forEach((x, i) => drawText(ctx, "H", px(x), py(hydrogenY[i]), atomFont, "#7fa6a8", "center"));
    drawText(ctx, "Astragaloside IV", 2608, 2052, "76px 'Open Sans', sans-serif", "#111");
  },
};

new Chart(document.getElementById("chartMol"), {
  type: "scatter",
  data: {
    datasets: [{
      data: bondPoints,
      showLine: true,
      spanGaps: false,
      fill: false,
      borderColor: "#111",
      borderWidth: 2.5,
      pointRadius: 0,
      tension: 0,
    }],
  },
  options: {
    responsive: false,
    devicePixelRatio: 1,
    animation: false,
    events: [],
    layout: { padding: { left: 2200, top: 1660, right: 0, bottom: 3036 - 2961 } },
    plugins: { legend: { display: false }, tooltip: { enabled: false } },
    scales: {
      x: { type: "linear", display: false, min: 0, max: 1568 },
      y: { type: "linear", display: false, min: 0, max: 1568, reverse: true },
    },
  },
  plugins: [moleculePlugin],
});
</script>
</body>
</html>
